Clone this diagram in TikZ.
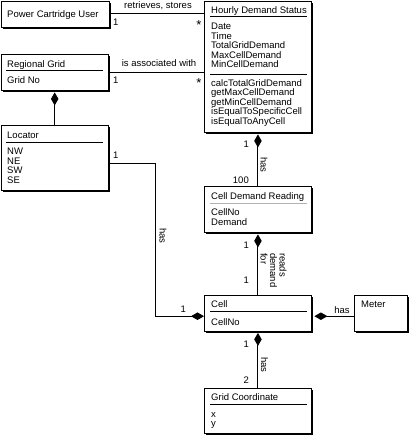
\documentclass[tikz,border=0pt]{standalone}
\usepackage{fontspec}
\setmainfont{Liberation Sans}
\usetikzlibrary{arrows.meta,shadows}
\begin{document}
\begin{tikzpicture}[x=1pt,y=-1pt,
		cls/.style={draw,fill=white,line width=0.9pt,anchor=north west,inner sep=0pt,
			drop shadow={shadow xshift=2pt,shadow yshift=-2pt,fill=black,opacity=1}},
		txt/.style={anchor=base west,inner sep=0pt,font=\fontsize{9.5}{9.5}\selectfont},
		lbl/.style={inner sep=0pt,font=\fontsize{9.5}{9.5}\selectfont},
		star/.style={inner sep=0pt,anchor=base,font=\fontsize{13}{13}\selectfont},
		sep/.style={line width=0.6pt},
		rel/.style={line width=1pt},
		comp/.style={line width=1pt,{Diamond[length=13pt,width=7.5pt]}-}]
		\useasboundingbox (0,0) rectangle (410,437);
		% classes
		\node[cls,minimum width=108pt,minimum height=26pt] (user) at (0.5,0.5) {};
		\node[txt] (user-t) at (7,17) {Power Cartridge User};
		\node[cls,minimum width=107pt,minimum height=131.5pt] (status) at (204,0.5) {};
		\node[txt] (status-t) at (211,13.5) {Hourly Demand Status};
		\draw[sep] (210,16.5) -- (307,16.5);
		\foreach \a [count=\i] in {Date,Time,TotalGridDemand,MaxCellDemand,MinCellDemand}
			\node[txt] (status-a\i) at (211,{29.5+9.5*(\i-1)}) {\a};
		\draw[sep] (210,74) -- (307,74);
		\foreach \m [count=\i] in {calcTotalGridDemand,getMaxCellDemand,getMinCellDemand,isEqualToSpecificCell,isEqualToAnyCell}
			\node[txt] (status-m\i) at (211,{86+9.5*(\i-1)}) {\m};
		\node[cls,minimum width=107.5pt,minimum height=36pt] (grid) at (0.5,54) {};
		\node[txt] (grid-t) at (7,67) {Regional Grid};
		\draw[sep] (6,70.5) -- (103,70.5);
		\node[txt] (grid-a1) at (7,83.5) {Grid No};
		\node[cls,minimum width=107.5pt,minimum height=65pt] (locator) at (0.5,125) {};
		\node[txt] (locator-t) at (7,138) {Locator};
		\draw[sep] (6,142) -- (103,142);
		\foreach \a [count=\i] in {NW,NE,SW,SE}
			\node[txt] (locator-a\i) at (7,{154.5+9.5*(\i-1)}) {\a};
		\node[cls,minimum width=107pt,minimum height=46pt] (reading) at (204,186) {};
		\node[txt] (reading-t) at (211,199) {Cell Demand Reading};
		\draw[sep,gray!60,line width=1pt] (210,203) -- (307,203);
		\node[txt] (reading-a1) at (211,215.5) {CellNo};
		\node[txt] (reading-a2) at (211,225) {Demand};
		\node[cls,minimum width=107pt,minimum height=35.5pt] (cell) at (204,295) {};
		\node[txt] (cell-t) at (211,307.5) {Cell};
		\draw[sep] (210,311.5) -- (307,311.5);
		\node[txt] (cell-a1) at (211,325) {CellNo};
		\node[cls,minimum width=53pt,minimum height=35.5pt] (meter) at (354,295) {};
		\node[txt] (meter-t) at (361,307.5) {Meter};
		\node[cls,minimum width=107pt,minimum height=45pt] (coord) at (204,388) {};
		\node[txt] (coord-t) at (211,400.5) {Grid Coordinate};
		\draw[sep] (210,404.5) -- (307,404.5);
		\node[txt] (coord-a1) at (211,417.5) {x};
		\node[txt] (coord-a2) at (211,426.5) {y};
		% associations
		\draw[rel] (user.east) -- (user.east -| status.west);
		\node[lbl,anchor=base] (l-user) at (158,8.5) {retrieves, stores};
		\node[lbl,anchor=base west] (m-user1) at (113,25.5) {1};
		\node[star] (m-user2) at (199,29) {*};
		\draw[rel] (grid.east) -- (grid.east -| status.west);
		\node[lbl,anchor=base] (l-grid) at (159,66.5) {is associated with};
		\node[lbl,anchor=base west] (m-grid1) at (113,83.5) {1};
		\node[star] (m-grid2) at (199,87) {*};
		% compositions
		\draw[comp] ([yshift=-1.5pt]grid.south) -- (locator.north);
		\draw[comp] ([yshift=-1.5pt]status.south) -- (reading.north);
		\node[lbl,anchor=base east] (m-st1) at (249,147) {1};
		\node[lbl,anchor=base east] (m-st2) at (249,183.5) {100};
		\node[lbl,rotate=-90,anchor=base west] (l-st) at (260.5,157) {has};
		\draw[comp] ([yshift=-1.5pt]reading.south) -- (cell.north);
		\node[lbl,anchor=base east] (m-rd1) at (249,248) {1};
		\node[lbl,anchor=base east] (m-rd2) at (249,283.5) {1};
		\foreach \w [count=\i] in {reads,demand,for}
			\node[lbl,rotate=-90,anchor=base west] (l-rd\i) at ({289-9.5*\i},253) {\w};
		\draw[comp] ([yshift=-1.5pt]cell.south) -- (coord.north);
		\node[lbl,anchor=base east] (m-gc1) at (249,347) {1};
		\node[lbl,anchor=base east] (m-gc2) at (249,383) {2};
		\node[lbl,rotate=-90,anchor=base west] (l-gc) at (261,357) {has};
		\draw[comp] ([yshift=-3pt]cell.west) -| ([xshift=47pt,yshift=-5.5pt]locator.east) -- ([yshift=-5.5pt]locator.east);
		\node[lbl,anchor=base west] (m-loc1) at (113,158.5) {1};
		\node[lbl,anchor=base east] (m-loc2) at (186,312.5) {1};
		\node[lbl,rotate=-90,anchor=base west] (l-loc) at (159.5,228) {has};
		\draw[comp] ([xshift=2.5pt,yshift=-3pt]cell.east) -- ([yshift=-3pt]meter.west);
		\node[lbl,anchor=base] (l-met) at (342,313.5) {has};
	\end{tikzpicture}
\end{document}
